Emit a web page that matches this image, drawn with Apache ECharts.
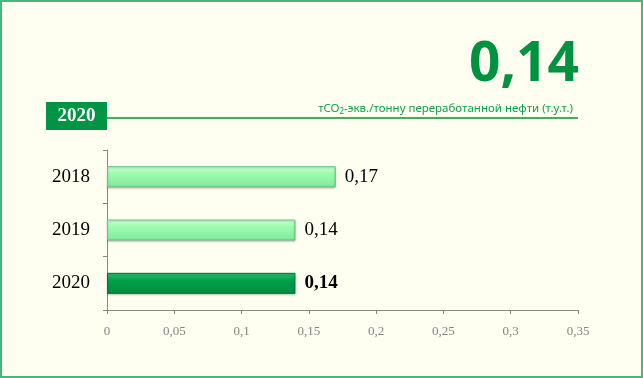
<!DOCTYPE html>
<html>
<head>
<meta charset="utf-8">
<script src="https://cdn.jsdelivr.net/npm/echarts@6/dist/echarts.min.js"></script>
<style>
  html, body { margin: 0; padding: 0; background: #fefff0; }
  #chart { width: 643px; height: 378px; }
</style>
</head>
<body>
<div id="chart"></div>
<script>
const years = ['2018', '2019', '2020']
const values = [0.17, 0.14, 0.14]
const highlightYear = '2020'
const headlineValue = '0,14'
const unitText = 'тCO{sub|2}-экв./тонну переработанной нефти (т.у.т.)'

const fmt = v => String(v).replace('.', ',')

const lightFill = new echarts.graphic.LinearGradient(0, 0, 0, 1, [
  { offset: 0, color: '#d8ffe0' },
  { offset: 0.3, color: '#9effb0' },
  { offset: 1, color: '#80e89a' }
])
const darkFill = new echarts.graphic.LinearGradient(0, 0, 0, 1, [
  { offset: 0, color: '#2cc46c' },
  { offset: 0.35, color: '#00a04a' },
  { offset: 1, color: '#008a40' }
])

const chart = echarts.init(document.getElementById('chart'))

chart.setOption({
  backgroundColor: '#fefff0',
  animation: false,
  title: [
    {
      text: headlineValue,
      right: 59,
      top: 33,
      textStyle: { fontFamily: 'Noto Sans', fontWeight: 'bold', fontSize: 55, color: '#00923f' }
    },
    {
      text: unitText,
      right: 65,
      top: 97,
      textStyle: {
        fontFamily: 'Noto Sans', fontWeight: 'normal', fontSize: 11.5, color: '#12a04a',
        rich: { sub: { fontFamily: 'Noto Sans', fontWeight: 'normal', fontSize: 8, color: '#12a04a', padding: [6, 0, 0, 0] } }
      }
    }
  ],
  graphic: [
    { type: 'rect', shape: { x: 1, y: 1, width: 641, height: 376 }, style: { fill: 'none', stroke: '#4cb57e', lineWidth: 2 } },
    { type: 'line', shape: { x1: 107, y1: 118, x2: 578, y2: 118 }, style: { stroke: '#43ad5c', lineWidth: 2 } },
    { type: 'rect', shape: { x: 46, y: 102, width: 61, height: 28 }, style: { fill: '#009444' } },
    {
      type: 'text', x: 76.5, y: 116,
      style: { text: highlightYear, fill: '#fff', font: 'bold 19px "Liberation Serif"', align: 'center', verticalAlign: 'middle' }
    }
  ],
  grid: { left: 107, right: 65, top: 150, bottom: 68 },
  xAxis: {
    type: 'value',
    min: 0,
    max: 0.35,
    interval: 0.05,
    splitLine: { show: false },
    axisLine: { show: true, lineStyle: { color: '#868686' } },
    axisTick: { show: true, length: 4, lineStyle: { color: '#868686' } },
    axisLabel: { color: '#858585', fontFamily: 'Liberation Serif', fontSize: 13, margin: 15, formatter: fmt }
  },
  yAxis: {
    type: 'category',
    data: years,
    inverse: true,
    axisLine: { show: true, lineStyle: { color: '#868686' } },
    axisTick: { show: true, length: 4, lineStyle: { color: '#868686' } },
    axisLabel: { color: '#000', fontFamily: 'Liberation Serif', fontSize: 19, margin: 17 }
  },
  series: [{
    type: 'bar',
    barWidth: 21,
    data: values.map((v, i) => {
      const hl = years[i] === highlightYear
      return {
        value: v,
        itemStyle: {
          color: hl ? darkFill : lightFill,
          borderColor: hl ? '#00783a' : '#6cc488',
          borderWidth: 1,
          shadowColor: 'rgba(0,0,0,0.25)',
          shadowBlur: 2,
          shadowOffsetY: 1
        },
        label: { fontWeight: hl ? 'bold' : 'normal' }
      }
    }),
    label: {
      show: true,
      position: 'right',
      distance: 9,
      color: '#000',
      fontFamily: 'Liberation Serif',
      fontSize: 19,
      formatter: p => fmt(p.value)
    }
  }]
})
</script>
</body>
</html>
